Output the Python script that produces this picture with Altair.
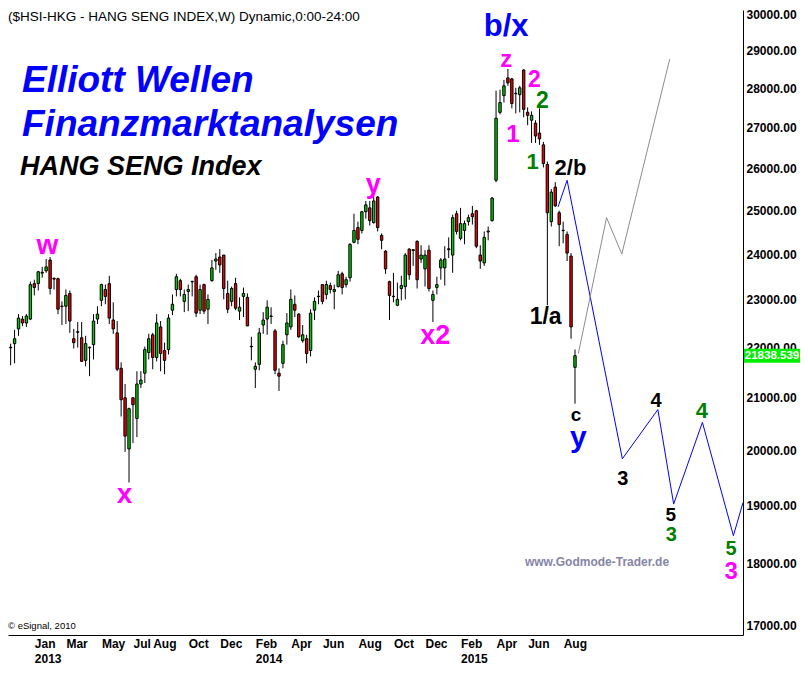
import altair as alt
import pandas as pd

FONT = "Liberation Sans"

# ---------------- weekly OHLC, Hang Seng Index ----------------
opens = [22000, 22085, 22389, 22595, 22513, 22595, 23352, 23352, 23580, 23631,
         23870, 23470, 23459, 22860, 22866, 23140, 22186, 22330, 22206, 21744,
         22010, 22065, 22595, 22992, 23224, 23352, 22575, 22307, 21585, 21001,
         20025, 21001, 20600, 21271, 21486, 21903, 22267, 21803, 22430, 21944,
         21964, 22782, 23224, 23416, 22970, 23182, 23390, 23502, 22782, 23331,
         22803, 23416, 23848, 23936, 23980, 23140, 22970, 23352, 22762, 23076,
         23055, 22030, 21565, 21663, 22471, 22595, 22660, 22348, 21486, 21684,
         22267, 22430, 22908, 22699, 22145, 22186, 21944, 22782, 23070, 23331,
         23118, 23310, 23182, 23288, 23566, 23331, 23480, 24266, 24602, 24534,
         24965, 25056, 24714, 25309, 24422, 24068, 23395, 23080, 22887, 23246,
         23288, 24112, 24080, 24288, 23892, 23674, 24090, 22992, 23267, 23696,
         23696, 24100, 23980, 24920, 24355, 24534, 24737, 24920, 24988, 23980,
         23805, 24500, 24760, 25707, 27382, 27810, 28273, 28247, 27870, 27836,
         28480, 27382, 27182, 27108, 26860, 26567, 26086, 24737, 25543, 24942,
         24540, 24444, 23958, 21604]
highs = [22085, 22369, 22699, 22658, 22699, 23395, 23437, 23631, 23718, 23892,
         23936, 23480, 23480, 22970, 23224, 23203, 22389, 22533, 22533, 22246,
         22024, 22699, 22866, 23352, 23331, 23523, 22950, 22554, 21703, 21271,
         20809, 21001, 21525, 21525, 22024, 22287, 22307, 22699, 22554, 22105,
         22699, 23118, 23566, 23459, 23224, 23331, 23416, 23545, 23331, 23352,
         23118, 23870, 24024, 24112, 23980, 23416, 23288, 23480, 23055, 23267,
         23140, 22226, 21703, 22410, 22741, 22992, 22845, 22389, 21585, 22145,
         22720, 23224, 23097, 22720, 22471, 22267, 22803, 23055, 23203, 23331,
         23416, 23373, 23331, 23631, 23610, 23502, 24244, 24920, 24737, 24988,
         25217, 25217, 25380, 25333, 24467, 24090, 23416, 23588, 23373, 23523,
         24024, 24134, 24112, 24311, 24200, 24090, 24200, 23203, 23502, 23914,
         24178, 24377, 24897, 24988, 25056, 24760, 24897, 25102, 25010, 24200,
         24512, 24624, 25309, 27938, 27964, 28221, 28507, 28273, 28014, 28066,
         28507, 27508, 27407, 27182, 27483, 26640, 26157, 25496, 25660, 24988,
         24737, 24512, 24024, 21964]
lows = [21644, 21684, 22246, 22451, 22430, 22575, 23097, 23203, 23480, 23588,
        23118, 23224, 22699, 22471, 22492, 22307, 21984, 22004, 21720, 21624,
        21427, 21763, 22492, 22866, 22908, 22492, 22287, 21525, 20638, 19970,
        19411, 20135, 20246, 21193, 21291, 21763, 21565, 21724, 21525, 21466,
        21863, 22678, 23076, 23076, 22741, 22762, 23076, 22637, 22699, 22699,
        22492, 23395, 23653, 23588, 23013, 22720, 22866, 22782, 22575, 22637,
        22451, 21744, 21193, 21545, 22287, 22267, 22492, 21466, 21135, 21585,
        22065, 22369, 22637, 22206, 22105, 21684, 21823, 22575, 22908, 22908,
        23013, 23140, 22803, 23267, 23118, 23267, 23395, 24244, 24222, 24467,
        24805, 24647, 24692, 24512, 24112, 23566, 22575, 22950, 22866, 22992,
        23013, 23437, 23740, 23246, 23805, 23288, 23182, 22533, 23118, 23437,
        23310, 23914, 23588, 24444, 24311, 24222, 24647, 24669, 24134, 23674,
        23740, 24311, 24737, 25660, 27332, 27633, 28066, 27483, 27357, 27382,
        27257, 27058, 26615, 26615, 26567, 26014, 22887, 24624, 25079, 24178,
        24244, 23848, 22186, 20885]
closes = [22010, 22186, 22616, 22513, 22658, 23331, 23267, 23610, 23600, 23718,
          23246, 23450, 22803, 22870, 23097, 22554, 22105, 22320, 21724, 22085,
          22000, 22554, 22699, 23331, 23076, 22616, 22389, 21565, 20962, 20265,
          20790, 20866, 21271, 21349, 21964, 22186, 21803, 22513, 21883, 21744,
          22616, 22908, 23502, 23224, 23118, 23224, 23400, 22720, 23224, 22762,
          23013, 23696, 23892, 23761, 23246, 22803, 23246, 22824, 22845, 23140,
          22451, 22020, 21624, 22307, 22575, 22845, 22650, 21545, 21427, 22065,
          22513, 23013, 22782, 22226, 22267, 21883, 22720, 22970, 23080, 22970,
          23331, 23224, 23224, 23545, 23267, 23437, 24222, 24534, 24333, 24965,
          25125, 24760, 25217, 24601, 24311, 23674, 23097, 23070, 23013, 23310,
          23980, 23545, 24100, 23437, 23980, 23980, 23246, 23118, 23331, 23870,
          23892, 24120, 24828, 24512, 24692, 24692, 24828, 24851, 24178, 23848,
          24377, 24520, 25286, 27233, 27633, 28066, 28144, 27608, 27860, 28014,
          27458, 27307, 27307, 26787, 26714, 26109, 24942, 25426, 25102, 24669,
          24530, 24024, 22430, 21838.539]

first_week = "2012-11-26"
last_price = 21838.539

# x-axis labels: first weekly bar of each labelled month
month_ticks = ["2013-01-07", "2013-03-04", "2013-05-06", "2013-07-01", "2013-08-05",
               "2013-10-07", "2013-12-02", "2014-02-03", "2014-04-07", "2014-06-02",
               "2014-08-04", "2014-10-06", "2014-12-01", "2015-02-02", "2015-04-06",
               "2015-06-01", "2015-08-03"]
y_ticks = [17000, 18000, 19000, 20000, 21000, 22000, 23000, 24000, 25000,
           26000, 27000, 28000, 29000, 30000]

# projected paths
blue_dates = ["2015-07-25", "2015-08-10", "2015-11-16", "2016-01-18",
              "2016-02-15", "2016-04-06", "2016-05-31", "2016-06-17"]
blue_prices = [25080, 25706, 19843, 20772, 19025, 20526, 18475, 19050]
grey_dates = ["2015-08-30", "2015-10-19", "2015-11-15", "2016-02-08"]
grey_prices = [21884, 24829, 24003, 28771]

# Elliott wave labels (anchor date / price)
wave_text = ["w", "x", "y", "x2", "b/x", "z", "2", "2", "1", "1", "2/b", "1/a",
             "c", "y", "3", "4", "5", "3", "4", "5", "3"]
wave_dates = ["2013-01-30", "2013-06-16", "2014-08-31", "2014-12-19", "2015-04-24",
              "2015-04-24", "2015-06-13", "2015-06-27", "2015-05-06", "2015-06-10",
              "2015-08-16", "2015-07-03", "2015-08-26", "2015-08-30", "2015-11-17",
              "2016-01-15", "2016-02-10", "2016-02-11", "2016-04-05", "2016-05-27",
              "2016-05-27"]
wave_prices = [24178, 19182, 25590, 22248, 29640, 28760, 28230, 27680, 26811, 26156,
               25991, 22637, 20660, 20230, 19465, 20943, 18840, 18490, 20753, 18240,
               17860]

MAG, GRN, BLK, BLU = "#ff00ff", "#008000", "#000000", "#0000ff"
wave_style = [(MAG, 28), (MAG, 28), (MAG, 27), (MAG, 27), (BLU, 31), (MAG, 24),
              (MAG, 23), (GRN, 23), (MAG, 24), (GRN, 22), (BLK, 22), (BLK, 23),
              (BLK, 19), (BLU, 30), (BLK, 20), (BLK, 20), (BLK, 19), (GRN, 20),
              (GRN, 22), (GRN, 20), (MAG, 24)]

UP_COLOR = "#00cc00"
DOWN_COLOR = "#ee0000"

# ---------------- tables ----------------
df = pd.DataFrame({
    "date": pd.date_range(first_week, periods=len(opens), freq="7D"),
    "open": opens, "high": highs, "low": lows, "close": closes,
})
df["dir"] = ["up" if c >= o else "down" for o, c in zip(opens, closes)]

blue_df = pd.DataFrame({"date": pd.to_datetime(blue_dates), "price": blue_prices})
grey_df = pd.DataFrame({"date": pd.to_datetime(grey_dates), "price": grey_prices})
wave_df = pd.DataFrame({
    "date": pd.to_datetime(wave_dates), "price": wave_prices, "txt": wave_text,
    "col": [s[0] for s in wave_style], "fs": [s[1] for s in wave_style],
})
last_df = pd.DataFrame({"price": [last_price], "txt": [f"{last_price:.3f}"]})
one = pd.DataFrame({"k": [0]})

W, H = 735, 625

xs = alt.Scale(domain=[alt.DateTime(year=2012, month=11, date=21, hours=8),
                       alt.DateTime(year=2016, month=6, date=17)],
               padding=0, nice=False)
ys = alt.Scale(type="log", domain=[16845, 30115], nice=False, padding=0)

tick_dt = [alt.DateTime(year=int(s[:4]), month=int(s[5:7]), date=int(s[8:])) for s in month_ticks]

xaxis = alt.Axis(
    values=tick_dt,
    labelExpr="(month(datum.value)==0 || month(datum.value)==1) ? "
              "[timeFormat(datum.value, '%b'), timeFormat(datum.value, '%Y')] : "
              "timeFormat(datum.value, '%b')",
    labelAlign="left", labelBaseline="top", labelFont=FONT, labelFontSize=12,
    labelFontWeight="bold", labelColor="black", labelPadding=3, labelLineHeight=15,
    labelOverlap=False, labelFlush=False, labelBound=False,
    ticks=False, grid=False, domainColor="black", domainWidth=1, title=None,
)
yaxis = alt.Axis(
    orient="right", values=y_ticks, format=".2f",
    labelFont=FONT, labelFontSize=12, labelFontWeight="bold", labelColor="black",
    labelPadding=3, labelOverlap=False, labelBound=False,
    ticks=False, grid=False, domainColor="black", domainWidth=1, title=None,
)

base = alt.Chart(df).encode(x=alt.X("date:T", scale=xs, axis=xaxis, title=None))

wicks = base.mark_rule(color="black", strokeWidth=1).encode(
    y=alt.Y("low:Q", scale=ys, axis=yaxis, title=None), y2="high:Q")

bodies = base.mark_bar(size=2.4, stroke="black", strokeWidth=1).encode(
    y=alt.Y("open:Q", scale=ys, title=None), y2="close:Q",
    color=alt.Color("dir:N", scale=alt.Scale(domain=["up", "down"],
                                             range=[UP_COLOR, DOWN_COLOR]), legend=None))

blue_line = alt.Chart(blue_df).mark_line(color="#0000ff", strokeWidth=1).encode(
    x=alt.X("date:T", scale=xs, title=None), y=alt.Y("price:Q", scale=ys, title=None))
grey_line = alt.Chart(grey_df).mark_line(color="#8c8c8c", strokeWidth=1).encode(
    x=alt.X("date:T", scale=xs, title=None), y=alt.Y("price:Q", scale=ys, title=None))

waves = alt.Chart(wave_df).mark_text(font=FONT, fontWeight="bold", align="center",
                                     baseline="middle").encode(
    x=alt.X("date:T", scale=xs, title=None), y=alt.Y("price:Q", scale=ys, title=None),
    text="txt:N", color=alt.Color("col:N", scale=None), size=alt.Size("fs:Q", scale=None))


def overlay(text, x, y, size, color="black", weight="bold", style="normal",
            align="left", baseline="alphabetic"):
    return alt.Chart(one).mark_text(
        text=text, font=FONT, fontSize=size, fontWeight=weight, fontStyle=style,
        color=color, align=align, baseline=baseline,
    ).encode(x=alt.value(x), y=alt.value(y))


header = overlay("($HSI-HKG - HANG SENG INDEX,W) Dynamic,0:00-24:00", 0, 0, 13.5,
                 weight="normal", baseline="top")
t1 = overlay("Elliott Wellen", 14, 82, 37, color="#0000ff", style="italic")
t2 = overlay("Finanzmarktanalysen", 14, 126, 37, color="#0000ff", style="italic")
t3 = overlay("HANG SENG Index", 12, 165, 27, color="black", style="italic")
godmode = overlay("www.Godmode-Trader.de", 589, 552, 12, color="#8585a5",
                  align="center", baseline="middle")
copyright_ = overlay("\u00a9 eSignal, 2010", 0, 616, 9.5, weight="normal",
                     baseline="middle")

price_box = alt.Chart(last_df).mark_point(
    shape="M-1,-0.25L1,-0.25L1,0.25L-1,0.25Z", size=3136, filled=True,
    color="#00ee00", opacity=1, strokeWidth=0,
).encode(x=alt.value(W + 29), y=alt.Y("price:Q", scale=ys, title=None))
price_txt = alt.Chart(last_df).mark_text(
    font=FONT, fontSize=11.5, fontWeight="bold", color="white", align="center",
    baseline="middle",
).encode(x=alt.value(W + 29), y=alt.Y("price:Q", scale=ys, title=None), text="txt:N")

chart = alt.layer(
    wicks, bodies, blue_line, grey_line, waves,
    header, t1, t2, t3, godmode, copyright_, price_box, price_txt,
).properties(
    width=W, height=H, padding={"left": 0, "top": 0, "right": 0, "bottom": 0},
    background="white",
).configure_view(stroke=None)

chart.save("out.html", embed_options={"renderer": "svg", "actions": False})
